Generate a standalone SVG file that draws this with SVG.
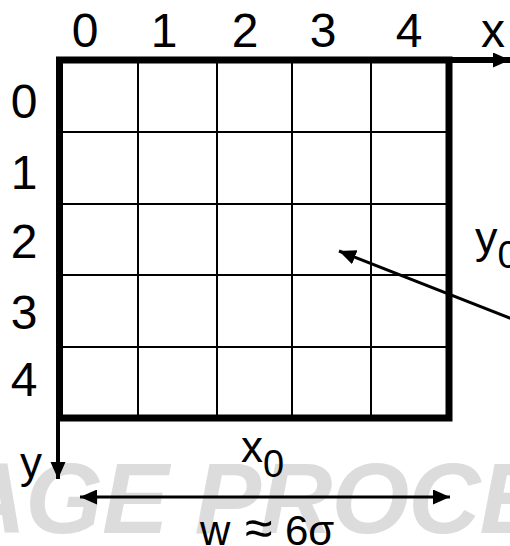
<svg xmlns="http://www.w3.org/2000/svg" width="510" height="546" viewBox="0 0 510 546">
<style>
.lbl{font-family:"Liberation Sans",Arial,sans-serif;font-size:48px;fill:#000}
.wm{font-family:"Liberation Sans",Arial,sans-serif;font-size:100px;font-weight:bold;font-style:italic;fill:#dcdcdc}
.thin{stroke:#000;stroke-width:2;fill:none}
.thick{stroke:#000;stroke-width:7;fill:none}
.arr{stroke:#000;stroke-width:3;fill:none}
</style>
<defs>
<marker id="ah" markerUnits="userSpaceOnUse" markerWidth="18" markerHeight="16" refX="17" refY="7.5" orient="auto">
<path d="M0,0 L17,7.5 L0,15 z" fill="#000"/>
</marker>
<marker id="ahs" markerUnits="userSpaceOnUse" markerWidth="18" markerHeight="16" refX="0" refY="7.5" orient="auto">
<path d="M17,0 L0,7.5 L17,15 z" fill="#000"/>
</marker>
</defs>
<rect width="510" height="546" fill="#fff"/>
<text class="wm" x="-46" y="533" letter-spacing="-1">AGE PROCE</text>
<g id="grid">
<path class="thin" d="M138,60V418M217,60V418M292,60V418M371,60V418M60,132H449M60,204H449M60,275H449M60,347H449"/>
<rect class="thick" x="59.5" y="60" width="389.5" height="358"/>
</g>
<g id="col-labels" class="lbl" text-anchor="middle">
<text x="85" y="47">0</text>
<text x="164" y="47">1</text>
<text x="245" y="47">2</text>
<text x="323" y="47">3</text>
<text x="409" y="47">4</text>
</g>
<g id="row-labels" class="lbl" text-anchor="middle">
<text x="24" y="118">0</text>
<text x="24" y="189">1</text>
<text x="24" y="258">2</text>
<text x="24" y="329">3</text>
<text x="24" y="396">4</text>
</g>
<g id="axis-x-label"><text class="lbl" x="481" y="47">x</text></g>
<g id="axis-y-label"><text class="lbl" x="20" y="478" style="font-size:44px">y</text></g>
<g id="x0-label"><text class="lbl" x="241" y="462" style="font-size:44px">x<tspan y="477" style="font-size:38px">0</tspan></text></g>
<g id="y0-label"><text class="lbl" x="475" y="253" style="font-size:45px">y<tspan y="268" style="font-size:38px">0</tspan></text></g>
<g id="w-label" class="lbl" style="font-size:42px">
<text x="200" y="545">w</text>
<text x="245" y="545" style="font-size:50px">≈</text>
<text x="285" y="545">6σ</text>
</g>
<g id="connectors">
<line x1="449" y1="60" x2="510" y2="60" stroke="#000" stroke-width="6" marker-end="url(#ah)"/>
<line x1="58" y1="418" x2="58" y2="479" stroke="#000" stroke-width="4" marker-end="url(#ah)"/>
<line class="arr" x1="80" y1="497" x2="450" y2="497" marker-start="url(#ahs)" marker-end="url(#ah)"/>
<line class="arr" x1="512" y1="319" x2="339" y2="251" marker-end="url(#ah)"/>
</g>
</svg>
